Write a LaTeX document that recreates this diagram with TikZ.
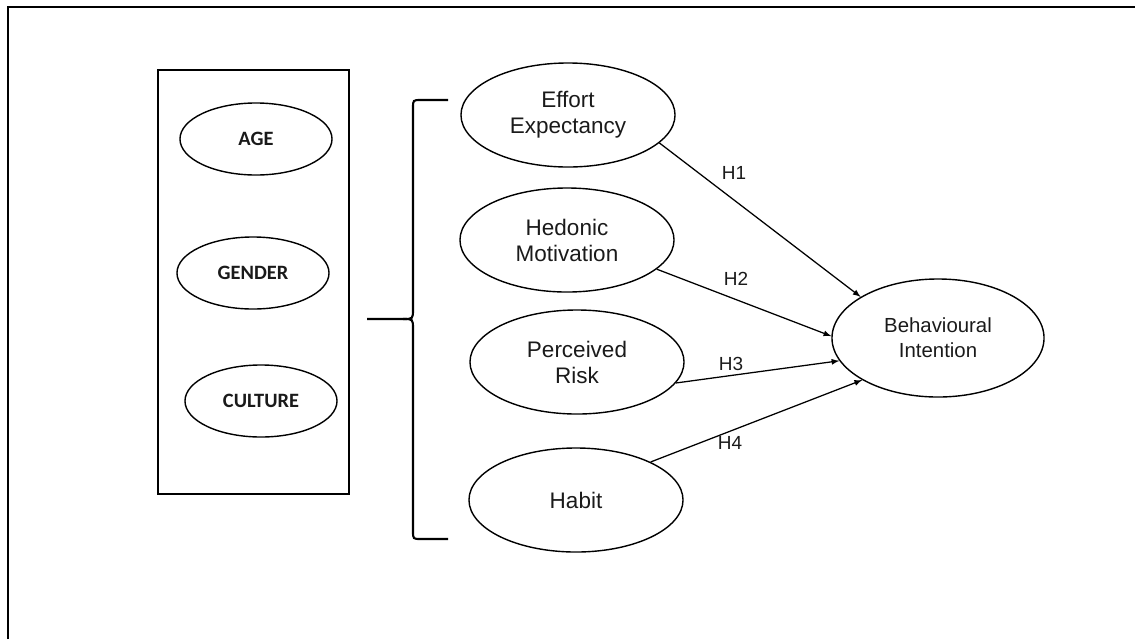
\documentclass[tikz,border=0pt]{standalone}
\usepackage{fontspec}
\setmainfont{Liberation Sans}
\newfontfamily\calib{Carlito}
\usetikzlibrary{shapes.geometric}
\definecolor{ink}{HTML}{1A1A1A}
\begin{document}
\begin{tikzpicture}[
x=0.025cm,y=-0.025cm,
mod/.style={%
draw, ellipse, line width=1pt, inner sep=0pt,
minimum width=3.8cm, minimum height=1.8cm,
text=ink, font=\calib\bfseries\fontsize{14.5}{16}\selectfont
},
fac/.style={%
draw, ellipse, line width=1pt, inner sep=0pt, align=center,
minimum width=5.35cm, minimum height=2.6cm,
text=ink, font=\fontsize{16}{18.5}\selectfont
},
hyp/.style={%
text=ink, font=\fontsize{13.5}{15}\selectfont
},
brc/.style={%
line width=1.5pt
},
lnk/.style={%
-{latex}, line width=0.9pt
}
]
\useasboundingbox (0,0) rectangle (1135,639);
%% Frame (cut off at right and bottom)
\draw[line width=1.5pt](8,639)--(8,7)--(1135,7);
%% Moderators
\node[draw,line width=1.1pt,minimum width=4.775cm,minimum height=10.6cm,inner sep=0pt]at(253.5,282)(mods){};
\node[mod]at(256,139)(age){AGE};
\node[mod]at(253,273)(gender){GENDER};
\node[mod]at(261,401)(culture){CULTURE};
%% Brace
\draw[brc](448,100)--(421,100) .. controls (413,100) .. (413,108)--(413,309) .. controls (413,319) .. (403,319)--(367,319);
\draw[brc](403,319) .. controls (413,319) .. (413,329)--(413,531) .. controls (413,539) .. (421,539)--(448,539);
%% Constructs
\node[fac]at(568,115)(ee){Effort\\Expectancy};
\node[fac]at(567,240)(hm){Hedonic\\Motivation};
\node[fac]at(577,362)(pr){Perceived\\Risk};
\node[fac]at(576,500)(hab){Habit};
%% Outcome
\node[fac,minimum width=5.3cm,minimum height=2.95cm,font=\fontsize{14.5}{17.5}\selectfont]at(938,338)(bi){Behavioural\\Intention};
%% Hypotheses
\draw[lnk](ee.-17)--(bi.152);
\draw[lnk](hm.-18)--(bi.179);
\draw[lnk](pr.-12)--(bi.-167);
\draw[lnk](hab.27)--(bi.-151);
\node[hyp]at(734,173)(h1){H1};
\node[hyp]at(736,279)(h2){H2};
\node[hyp]at(731,364)(h3){H3};
\node[hyp]at(730,443)(h4){H4};
\end{tikzpicture}
\end{document}
